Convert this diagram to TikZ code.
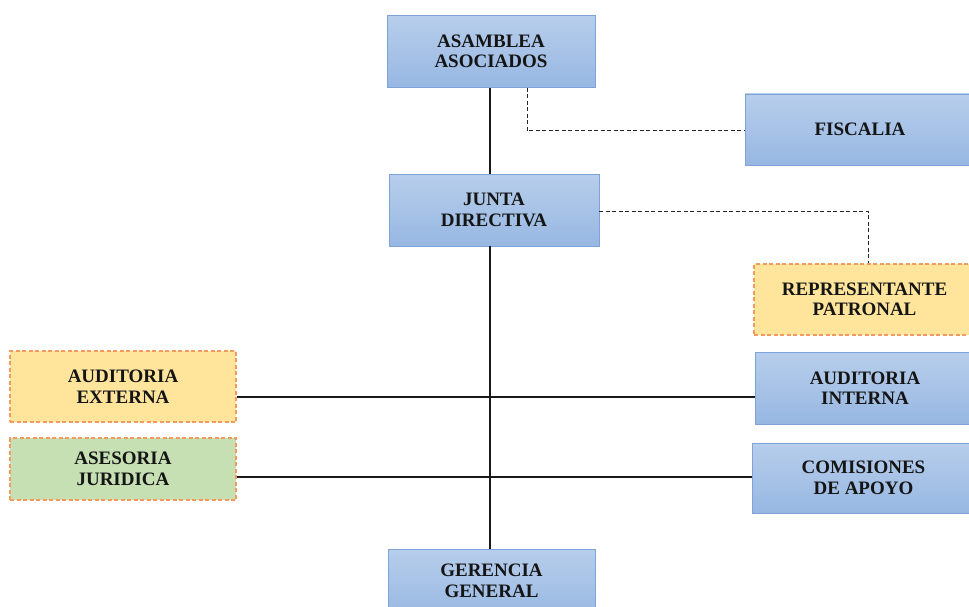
\documentclass[tikz,border=0pt]{standalone}
\usepackage{fontspec}
\setmainfont{Liberation Serif}
\begin{document}
\begin{tikzpicture}[x=1pt,y=-1pt,
  box/.style={rectangle, draw=boxedge, line width=0.8pt, top color=boxtop, bottom color=boxbot,
    align=center, font=\bfseries\fontsize{19}{20.5}\selectfont, text=txt, inner sep=0pt},
  obox/.style={rectangle, draw=orng, dash pattern=on 4pt off 2.5pt, line width=1.5pt, fill=ylw,
    align=center, font=\bfseries\fontsize{19}{20.5}\selectfont, text=txt, inner sep=0pt},
  gbox/.style={obox, fill=grn},
  conn/.style={line width=2.2pt, draw=black!90},
  dconn/.style={line width=1pt, dash pattern=on 4pt off 2.5pt, draw=black!85}]
\definecolor{boxtop}{HTML}{B7CEEB}
\definecolor{boxbot}{HTML}{97B7E2}
\definecolor{boxedge}{HTML}{7FA3D8}
\definecolor{orng}{HTML}{F39A5C}
\definecolor{ylw}{HTML}{FFE59C}
\definecolor{grn}{HTML}{C6E0B4}
\definecolor{txt}{HTML}{151515}
\useasboundingbox (0,0) rectangle (969,607);
\fill[white] (0,0) rectangle (969,607);

\node[box, minimum width=208pt, minimum height=72pt] (asamblea) at (491,51.5) {ASAMBLEA\\ASOCIADOS};
\node[box, minimum width=230pt, minimum height=71pt] (fiscalia) at (860,129.5) {FISCALIA};
\node[box, minimum width=210pt, minimum height=72pt] (junta) at (494,210) {JUNTA\\DIRECTIVA};
\node[obox, minimum width=221pt, minimum height=71pt] (rep) at (864.5,299.5) {REPRESENTANTE\\PATRONAL};
\node[obox, minimum width=226pt, minimum height=71pt] (ae) at (123,386.5) {AUDITORIA\\EXTERNA};
\node[box, minimum width=220pt, minimum height=72pt] (ai) at (865,388) {AUDITORIA\\INTERNA};
\node[gbox, minimum width=226pt, minimum height=62pt] (as) at (123,469) {ASESORIA\\JURIDICA};
\node[box, minimum width=223pt, minimum height=70pt] (com) at (863.5,478) {COMISIONES\\DE APOYO};
\node[box, minimum width=207pt, minimum height=71pt, text depth=8pt] (ger) at (491.5,584.5) {GERENCIA\\GENERAL};

\coordinate (v) at (490,0);
\coordinate (h1) at (490,397);
\coordinate (h2) at (490,477);
\coordinate (d1) at (527,131);
\coordinate (d2) at (868,211);

\draw[conn] (asamblea.south -| v) -- (junta.north -| v);
\draw[conn] (junta.south -| v) -- (ger.north -| v);
\draw[conn] (ae.east |- h1) -- (ai.west |- h1);
\draw[conn] (as.east |- h2) -- (com.west |- h2);
\draw[dconn] (asamblea.south -| d1) -- (d1) -- (fiscalia.west |- d1);
\draw[dconn] (junta.east |- d2) -- (d2) -- (rep.north -| d2);
\end{tikzpicture}
\end{document}
